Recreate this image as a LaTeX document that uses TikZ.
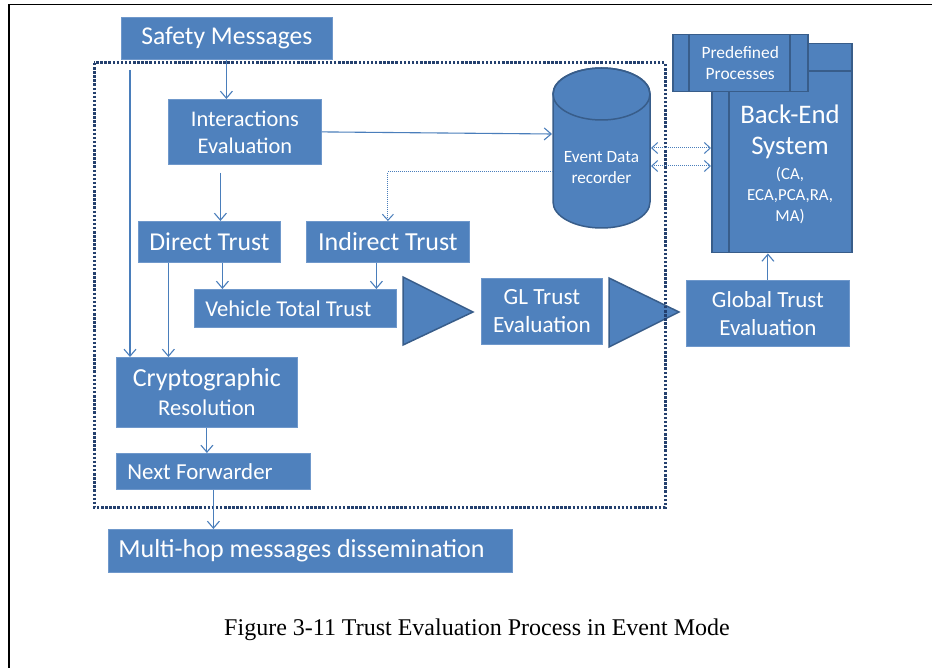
\documentclass[tikz,border=0pt]{standalone}
\usepackage{fontspec}
\setmainfont{Carlito}
\newfontfamily\capfont{Liberation Serif}
\usetikzlibrary{arrows.meta}
\definecolor{boxblue}{HTML}{4F81BD}
\definecolor{edgeblue}{HTML}{385D8A}
\definecolor{lineblue}{HTML}{4A7EBB}
\definecolor{lightedge}{HTML}{6F98CB}
\definecolor{framenavy}{HTML}{24406E}
\newcommand\myfs[2]{\fontsize{#1}{#2}\selectfont}
\begin{document}
\begin{tikzpicture}[x=1pt,y=-1pt,
  box/.style={rectangle, fill=boxblue, draw=lightedge, line width=0.8pt, text=white, inner sep=0pt, anchor=north west, align=center},
  darkbox/.style={rectangle, fill=boxblue, draw=edgeblue, line width=1.5pt, text=white, inner sep=0pt, anchor=north west, align=center},
  leftbox/.style={box, align=left},
  arr/.style={lineblue, line width=1.1pt, -{Straight Barb[length=7pt,width=12pt]}},
  arrdot/.style={lineblue, line width=1pt, dash pattern=on 1pt off 1pt, -{Straight Barb[length=6pt,width=11pt]}},
  dblarrdot/.style={lineblue, line width=1pt, dash pattern=on 1pt off 1pt, {Straight Barb[length=6pt,width=11pt]}-{Straight Barb[length=6pt,width=11pt]}},
  tri/.style={fill=boxblue, draw=edgeblue, line width=1.5pt, line join=miter},
  framestyle/.style={framenavy, line width=3pt, dash pattern=on 2.5pt off 1.6pt},
  wtext/.style={text=white, inner sep=0pt, align=center}
]
\useasboundingbox (0,0) rectangle (932,668);
\fill[white] (0,0) rectangle (932,668);
\draw[line width=1.4pt] (9,668) -- (9,4.5) -- (932,4.5);

% boxes
\node[box, minimum width=211pt, minimum height=42pt, font=\myfs{25.6}{30}] (safety) at (121,17) {Safety Messages};
\node[box, minimum width=153pt, minimum height=65pt, font=\myfs{22.4}{27}] (inter) at (168,99) {Interactions\\Evaluation};
\node[box, minimum width=142pt, minimum height=41pt, font=\myfs{25.7}{30}] (direct) at (138,221) {Direct Trust};
\node[box, minimum width=163pt, minimum height=41pt, font=\myfs{26}{30}] (indirect) at (306,221) {Indirect Trust};
\node[leftbox, minimum width=202pt, minimum height=38pt, text width=180pt, inner xsep=11pt, font=\myfs{22.6}{27}] (vehicle) at (194,289) {\spaceskip=0pt Vehicle Total Trust};
\node[box, minimum width=121pt, minimum height=66pt, font=\myfs{23.2}{28}] (gl) at (481,278) {GL Trust\\Evaluation};
\node[box, minimum width=163pt, minimum height=66pt, font=\myfs{23}{28}] (global) at (686,280) {Global Trust\\Evaluation};
\node[box, minimum width=181pt, minimum height=70pt, font=\myfs{22.6}{29}] (crypt) at (116,357) {{\myfs{26}{29}Cryptographic}\\Resolution};
\node[leftbox, minimum width=194pt, minimum height=36pt, text width=172pt, inner xsep=11pt, font=\myfs{22.9}{27}] (next) at (116,453) {\spaceskip=0pt Next Forwarder};
\node[leftbox, minimum width=404pt, minimum height=43pt, text width=384pt, inner xsep=10pt, font=\myfs{26}{31}] (multi) at (108,529) {\spaceskip=0pt Multi-hop messages dissemination};

% back-end system
\node[darkbox, minimum width=140pt, minimum height=209pt] (backend) at (711,43) {};
\draw[edgeblue, line width=1.5pt] (backend.north -| 729,0) -- (backend.south -| 729,0);
\draw[edgeblue, line width=1.5pt] (backend.west |- 0,71) -- (backend.east |- 0,71);
\node[darkbox, minimum width=135pt, minimum height=57pt, font=\myfs{17.4}{21}] (predef) at (672,34) {Predefined\\Processes};
\draw[edgeblue, line width=1.5pt] (predef.north -| 689,0) -- (predef.south -| 689,0);
\draw[edgeblue, line width=1.5pt] (predef.north -| 790,0) -- (predef.south -| 790,0);
\node[wtext, font=\myfs{26.8}{31}] (betitle) at (790,132) {Back-End\\System};
\node[wtext, font=\myfs{16.8}{21}] (besub) at (790,196) {(CA,\\ECA,PCA,RA,\\MA)};

% event data recorder cylinder
\path[fill=boxblue, draw=edgeblue, line width=1.5pt] (553,94) -- (553,202) arc[start angle=180, end angle=0, x radius=48.5, y radius=26] -- (650,94) arc[start angle=0, end angle=-180, x radius=48.5, y radius=26] -- cycle;
\draw[edgeblue, line width=1.5pt] (601.5,94) ellipse [x radius=48.5, y radius=26];
\node[wtext, font=\myfs{17.2}{21}] (edr) at (601.5,168) {Event Data\\recorder};

% triangles
\filldraw[tri] (403,277) -- (403,345) -- (473,312) -- cycle;
\filldraw[tri] (609,278) -- (609,347) -- (679,312) -- cycle;

% dotted frame
\draw[framestyle] (94,63) rectangle (665,507);

% connectors
\coordinate (lstart) at (130,70);
\coordinate (edrin) at (552,134);
\coordinate (edrout) at (553,172);
\coordinate (edrr1) at (651,148);
\coordinate (edrr2) at (651,166);
\draw[arr] ([xshift=-0.5pt]safety.south) -- ([xshift=-0.5pt]safety.south |- inter.north);
\draw[arr, shorten <=8pt] ([xshift=11pt]direct.north |- inter.south) -- ([xshift=11pt]direct.north);
\draw[arr] ([xshift=13pt]direct.south) -- ([xshift=13pt]direct.south |- vehicle.north);
\draw[arr] ([xshift=-11.5pt]indirect.south) -- ([xshift=-11.5pt]indirect.south |- vehicle.north);
\draw[arr] ([xshift=-41pt]direct.south) -- ([xshift=-41pt]direct.south |- crypt.north);
\draw[arr] (lstart) -- (lstart |- crypt.north);
\draw[arr] (crypt.south) -- (crypt.south |- next.north);
\draw[arr] (next.south) -- (next.south |- multi.north);
\draw[arr] (inter.east) -- (edrin);
\draw[arrdot] (edrout) -| (indirect.north);
\draw[dblarrdot] (edrr1) -- (edrr1 -| backend.west);
\draw[dblarrdot] (edrr2) -- (edrr2 -| backend.west);
\draw[arr] (global.north) -- (global.north |- backend.south);

% caption
\node[font=\capfont\myfs{24}{29}, text=black, inner sep=0pt] (caption) at (477,630) {Figure 3-11 Trust Evaluation Process in Event Mode};
\end{tikzpicture}
\end{document}
